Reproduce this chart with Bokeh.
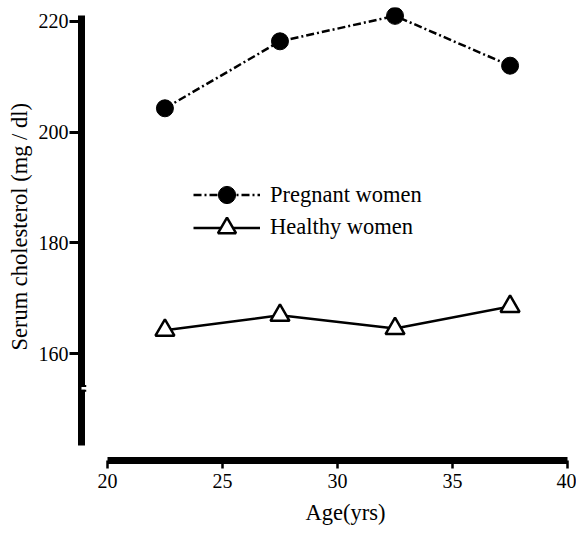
from bokeh.plotting import figure
from bokeh.models import (Range1d, FixedTicker, Legend, LegendItem, BoxAnnotation, Title)
from bokeh.embed import file_html
from bokeh.resources import INLINE

# ---- data ----
age = [22.5, 27.5, 32.5, 37.5]
pregnant = [204.3, 216.4, 221.0, 212.0]
healthy = [164.2, 166.9, 164.5, 168.5]
x_ticks = [20, 25, 30, 35, 40]
y_ticks = [160, 180, 200, 220]
y_break = 153.7

FONT = "Liberation Serif"
X0, X1 = 18.874, 40.30
Y0, Y1 = 140.67, 222.51

p = figure(width=576, height=536, output_backend="svg", toolbar_location=None,
           x_range=Range1d(X0, X1), y_range=Range1d(Y0, Y1),
           min_border_left=79, min_border_right=2, min_border_top=7, min_border_bottom=76)
p.outline_line_color = None
p.xgrid.visible = False
p.ygrid.visible = False
p.background_fill_color = "white"
p.border_fill_color = "white"

p.xaxis.ticker = FixedTicker(ticks=x_ticks)
p.xaxis.bounds = (20, 40)
p.xaxis.axis_line_width = 7
p.xaxis.axis_line_color = "black"
p.xaxis.major_tick_line_color = "black"
p.xaxis.major_tick_line_width = 2.5
p.xaxis.major_tick_in = 0
p.xaxis.major_tick_out = 8
p.xaxis.minor_tick_line_color = None
p.xaxis.major_label_standoff = 5
p.xaxis.major_label_text_font = FONT
p.xaxis.major_label_text_font_size = "20px"
p.xaxis.major_label_text_color = "black"

p.yaxis.ticker = FixedTicker(ticks=y_ticks)
p.yaxis.bounds = (143.4, 221.0)
p.yaxis.axis_line_width = 7
p.yaxis.axis_line_color = "black"
p.yaxis.major_tick_line_color = "black"
p.yaxis.major_tick_line_width = 3
p.yaxis.major_tick_in = 0
p.yaxis.major_tick_out = 12
p.yaxis.minor_tick_line_color = None
p.yaxis.major_label_standoff = 1
p.yaxis.major_label_text_font = FONT
p.yaxis.major_label_text_font_size = "20px"
p.yaxis.major_label_text_color = "black"

# axis titles
p.add_layout(Title(text="Age(yrs)", align="left", offset=224, standoff=14,
                   text_font=FONT, text_font_size="22.5px", text_font_style="normal",
                   text_color="black"), "below")
p.add_layout(Title(text="Serum cholesterol (mg / dl)", align="left", offset=110, standoff=8,
                   text_font=FONT, text_font_size="22.5px", text_font_style="normal",
                   text_color="black"), "left")

# axis break
p.add_layout(BoxAnnotation(left=18.55, right=19.25, bottom=y_break - 0.25, top=y_break + 0.25,
                           fill_color="white", fill_alpha=1, line_alpha=0, level="overlay"))
p.add_layout(BoxAnnotation(left=18.60, right=19.08, bottom=y_break + 0.25, top=y_break + 0.6,
                           fill_color="black", fill_alpha=1, line_alpha=0, level="overlay"))
p.add_layout(BoxAnnotation(left=18.60, right=19.08, bottom=y_break - 0.6, top=y_break - 0.25,
                           fill_color="black", fill_alpha=1, line_alpha=0, level="overlay"))

# series
l1 = p.line(age, pregnant, line_color="black", line_width=2.5, line_dash="8 3 2 3")
s1 = p.scatter(age, pregnant, marker="circle", size=17, fill_color="black", line_color="black")
l2 = p.line(age, healthy, line_color="black", line_width=2.5)
s2 = p.scatter(age, healthy, marker="triangle", size=19, fill_color="white",
               line_color="black", line_width=2.5)

common = dict(glyph_width=67, label_height=20, label_standoff=10, spacing=0, padding=0,
              margin=0, border_line_color=None, background_fill_alpha=0,
              label_text_font=FONT, label_text_font_size="22.5px", label_text_color="black")
leg1 = Legend(items=[LegendItem(label="Pregnant women", renderers=[l1, s1])],
              location=(112, 244), glyph_height=43, **common)
leg2 = Legend(items=[LegendItem(label="Healthy women", renderers=[l2, s2])],
              location=(112, 210.5), glyph_height=45, **common)
p.add_layout(leg1, "center")
p.add_layout(leg2, "center")

open("out.html", "w").write(file_html(p, INLINE))
